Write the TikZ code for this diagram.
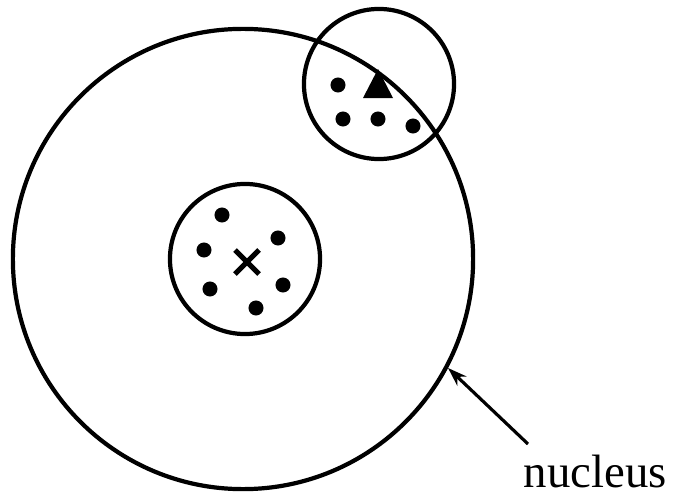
\documentclass[tikz,border=0pt]{standalone}
\usepackage{fontspec}
\setmainfont{Liberation Serif}
\usepackage{tikz}
\usetikzlibrary{positioning,arrows.meta}

\begin{document}
\begin{tikzpicture}[x=0.01cm, y=-0.01cm,
    ring/.style={draw, circle, line width=1.2pt, inner sep=0pt},
    dot/.style={fill, circle, inner sep=0pt, minimum size=0.15cm}]
        \useasboundingbox (0,0) rectangle (678,497);
        \node[ring, minimum size=4.6cm] (nucleus) at (243,259) {};
        \node[ring, minimum size=1.5cm] (core) at (245,259) {};
        \node[ring, minimum size=1.5cm] (probe) at (379,84) {};
        % particles inside the core
        \draw[line width=1.5pt] (235,250) -- (259,274) (235,274) -- (259,250);
        \node[dot] (c1) at (222,215) {};
        \node[dot] (c2) at (278,238) {};
        \node[dot] (c3) at (204,250) {};
        \node[dot] (c4) at (283,285) {};
        \node[dot] (c5) at (210,289) {};
        \node[dot] (c6) at (256,308) {};
        % particles near the surface
        \fill (378,69) -- (393,98) -- (363,98) -- cycle;
        \node[dot] (p1) at (338,85) {};
        \node[dot] (p2) at (343,119) {};
        \node[dot] (p3) at (378,119) {};
        \node[dot] (p4) at (413,126) {};
        \node[font=\fontsize{13.3}{16}\selectfont, anchor=base west, inner sep=0pt] (label) at (523,487) {nucleus};
        \coordinate (tail) at (528,444);
        \draw[-{Stealth[length=0.19cm,width=0.13cm]}, line width=0.9pt] (tail) -- (nucleus.-28);
      \end{tikzpicture}
\end{document}
